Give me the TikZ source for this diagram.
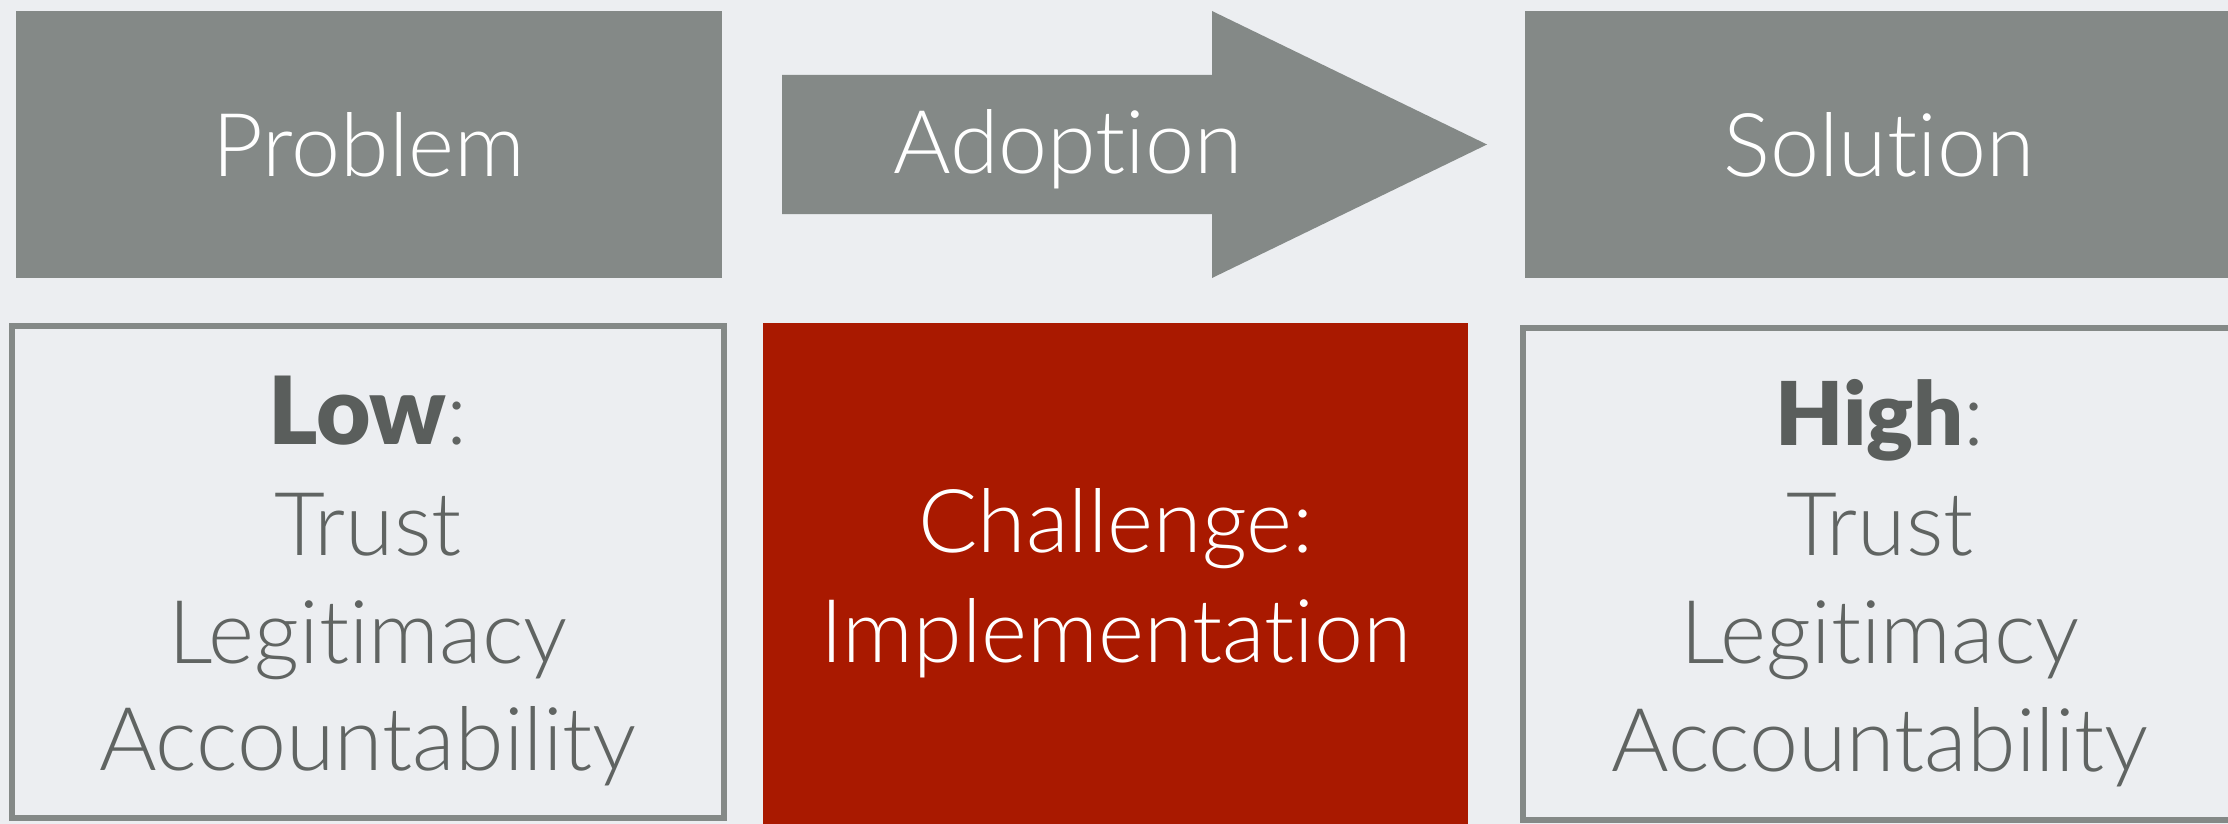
\documentclass[tikz,border=0pt]{standalone}
\usepackage{fontspec}
\setmainfont{Lato Light}[Ligatures={NoCommon,NoContextual}]
\newfontfamily\heavy{Lato Black}[Ligatures={NoCommon,NoContextual}]
\definecolor{bgc}{RGB}{236,238,241}
\definecolor{boxgray}{RGB}{132,137,135}
\definecolor{redc}{RGB}{169,25,0}
\definecolor{txtgray}{RGB}{96,100,98}
\definecolor{boldgray}{RGB}{90,94,92}
\begin{document}
\begin{tikzpicture}[x=1pt,y=-1pt,
  graybox/.style={fill=boxgray,draw=none,inner sep=0pt,outer sep=0pt,minimum width=706pt,minimum height=267pt},
  framebox/.style={draw=boxgray,line width=6pt,fill=none,inner sep=0pt,outer sep=0pt,minimum width=712pt,minimum height=492pt},
  redbox/.style={fill=redc,draw=none,inner sep=0pt,outer sep=0pt,minimum width=705pt,minimum height=507pt},
  toptext/.style={anchor=base,inner sep=0pt,text=white,font=\fontsize{88}{106}\selectfont},
  lowtext/.style={anchor=base,inner sep=0pt,text=txtgray,font=\fontsize{88}{106}\selectfont},
  redtext/.style={anchor=base,inner sep=0pt,text=white,font=\fontsize{88}{106}\selectfont}]
\fill[bgc] (0,0) rectangle (2228,824);
\useasboundingbox (0,0) rectangle (2228,824);
% top row
\node[graybox] (problem) at (369,144.5) {};
\node[graybox,minimum width=707pt] (solution) at (1878.5,144.5) {};
\coordinate (a1) at (782,75);
\coordinate (a2) at (1212,75);
\coordinate (a3) at (1212,11);
\coordinate (a4) at (1487,144.5);
\coordinate (a5) at (1212,278);
\coordinate (a6) at (1212,214);
\coordinate (a7) at (782,214);
\fill[boxgray] (a1) -- (a2) -- (a3) -- (a4) -- (a5) -- (a6) -- (a7) -- cycle;
\node[toptext] (tproblem) at (369,176) {Problem};
\node[toptext] (tadoption) at (1068,173) {Adoption};
\node[toptext] (tsolution) at (1879,177) {Solution};
% bottom row
\node[framebox] (low) at (368,572) {};
\node[redbox] (challenge) at (1115.5,576.5) {};
\node[framebox,minimum width=714pt] (high) at (1880,574) {};
\node[lowtext] (low1) at (368,444) {{\heavy\color{boldgray}\fontsize{94}{106}\selectfont Low}:};
\node[lowtext] (low2) at (368,555) {Trust};
\node[lowtext] (low3) at (368,663) {Legitimacy};
\node[lowtext] (low4) at (368,770) {Accountability};
\node[redtext] (ch1) at (1116,552) {Challenge:};
\node[redtext] (ch2) at (1116,662) {Implementation};
\node[lowtext] (high1) at (1880,445) {{\heavy\color{boldgray}High}:};
\node[lowtext] (high2) at (1880,555) {Trust};
\node[lowtext] (high3) at (1880,663) {Legitimacy};
\node[lowtext] (high4) at (1880,771) {Accountability};
\end{tikzpicture}
\end{document}
